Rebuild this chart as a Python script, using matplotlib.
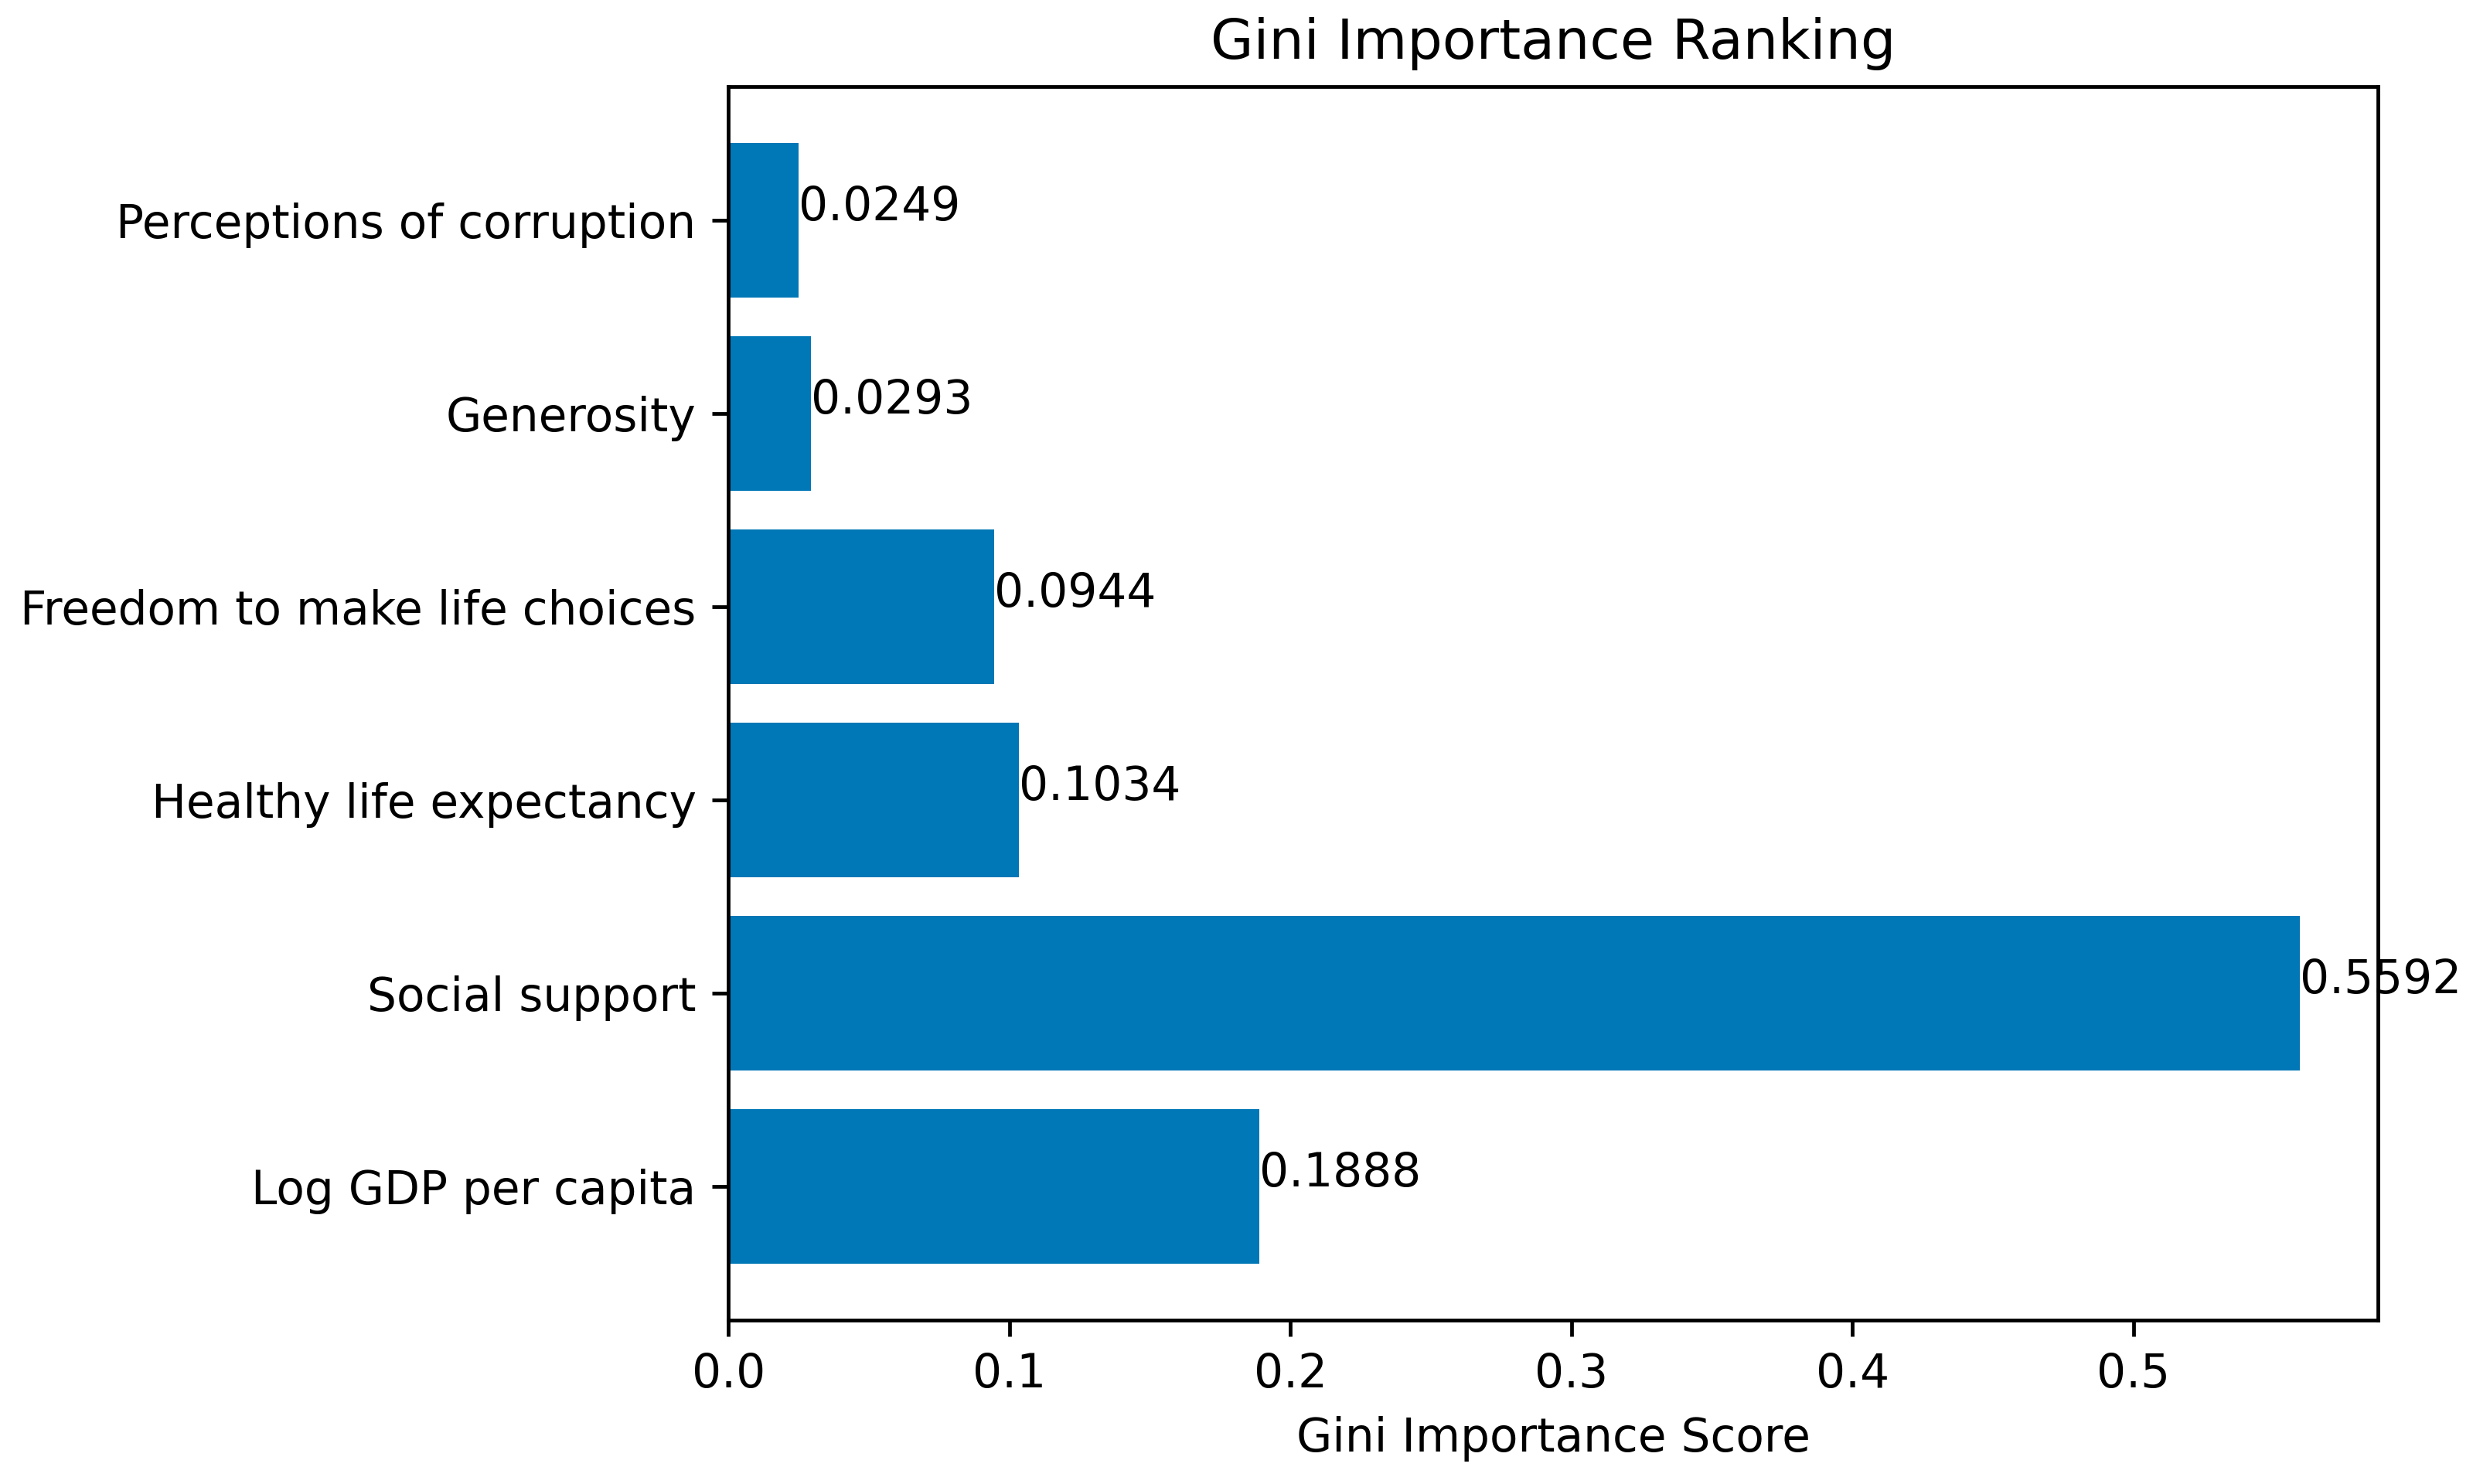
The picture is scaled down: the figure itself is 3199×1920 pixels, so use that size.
import matplotlib
matplotlib.use("Agg")
from matplotlib import pyplot as plt

features = ['Log GDP per capita', 'Social support', 'Healthy life expectancy',
            'Freedom to make life choices', 'Generosity', 'Perceptions of corruption']
scores = [0.1888, 0.5592, 0.1034, 0.0944, 0.0293, 0.0249]

dpi = 430
fig = plt.figure(figsize=(3199 / dpi, 1920 / dpi), dpi=dpi)
ax = fig.add_axes([0.2946, 0.1106, 0.9617 - 0.2946, 0.9415 - 0.1106])

ax.barh(features, scores, color='#0077B6')
for i, v in enumerate(scores):
    ax.text(v, i, f'{v:.4f}')

ax.set_xlabel('Gini Importance Score')
ax.set_title('Gini Importance Ranking')

fig.savefig('out.png', dpi=dpi)
